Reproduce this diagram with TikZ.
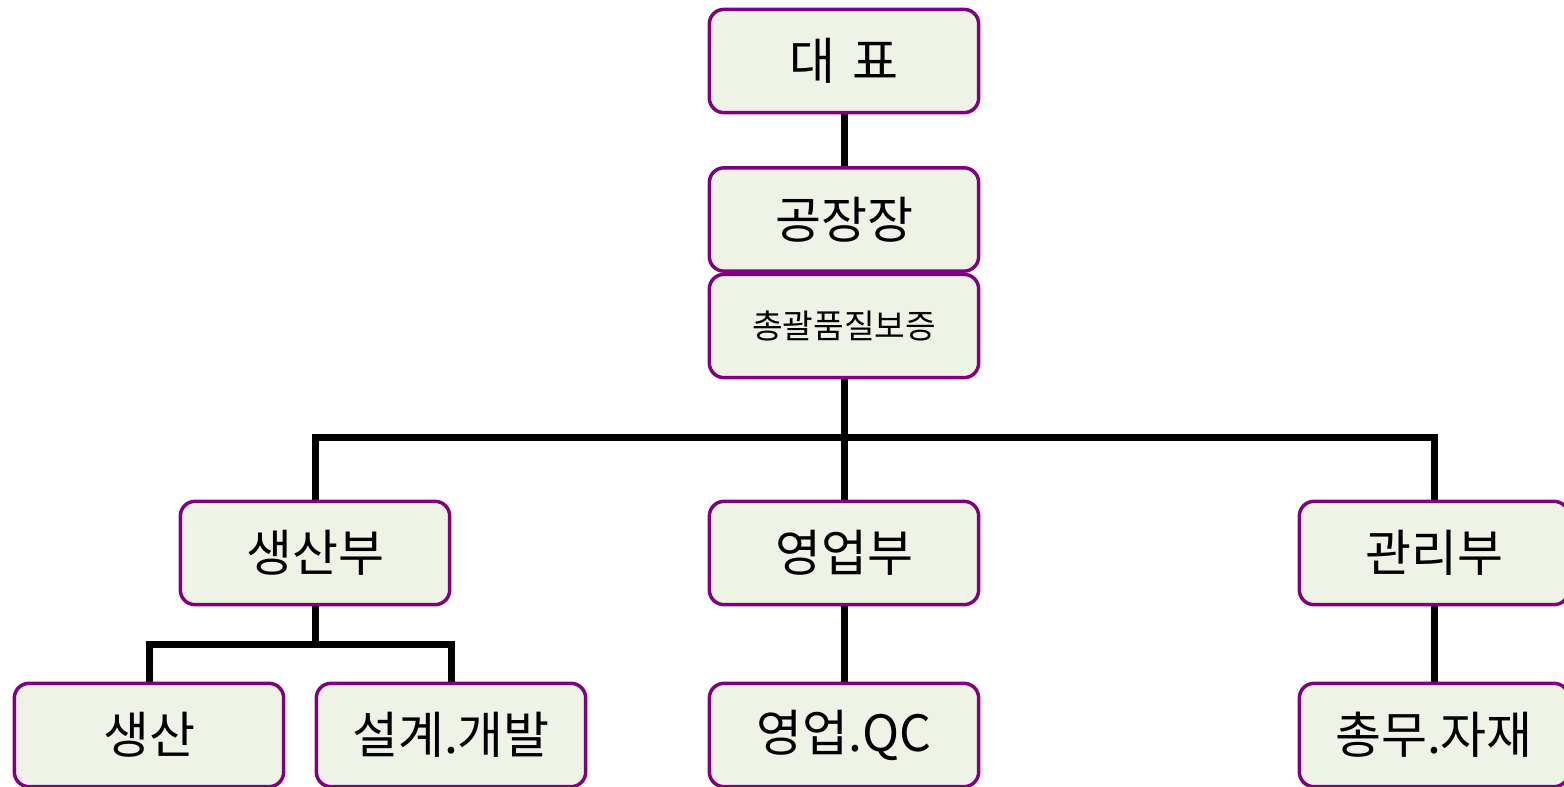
\documentclass[tikz,border=0pt]{standalone}
\usepackage{fontspec}
\setmainfont{Noto Sans CJK KR}
\usetikzlibrary{backgrounds}
\definecolor{boxfill}{HTML}{EEF3E5}
\definecolor{boxline}{HTML}{800080}
\tikzset{
  orgbox/.style={draw=boxline, line width=2.6pt, fill=boxfill, rounded corners=11pt,
    minimum width=202pt, minimum height=77.5pt, inner sep=0pt, font=\fontsize{37.5pt}{42pt}\selectfont},
  smallbox/.style={orgbox, font=\fontsize{25pt}{30pt}\selectfont},
  link/.style={line width=5.25pt, line join=miter, draw=black}
}
\begin{document}
\begin{tikzpicture}[x=0.75pt,y=-0.75pt]
\useasboundingbox (0,0) rectangle (1564,787);
\node[orgbox] (ceo) at (844,61) {대\hspace{0.35em}표};
\node[orgbox] (plant) at (844,219.5) {공장장};
\node[smallbox] (qa) at (844,326) {총괄품질보증};
\node[orgbox] (prodd) at (315,553) {생산부};
\node[orgbox] (sales) at (844,553) {영업부};
\node[orgbox] (admin) at (1434,553) {관리부};
\node[orgbox] (prod) at (149,735) {생산};
\node[orgbox] (design) at (451,735) {설계.개발};
\node[orgbox] (salesqc) at (844,735) {영업.QC};
\node[orgbox] (gen) at (1434,735) {총무.자재};
\coordinate (bus) at (844,438);
\coordinate (subbus) at (315,644);
\begin{scope}[on background layer]
\draw[link] (ceo) -- (plant);
\draw[link] (qa) -- (sales);
\draw[link] (prodd.north) |- (bus) -| (admin.north);
\draw[link] (prodd) -- (subbus);
\draw[link] (prod.north) |- (subbus) -| (design.north);
\draw[link] (sales) -- (salesqc);
\draw[link] (admin) -- (gen);
\end{scope}
\end{tikzpicture}
\end{document}
